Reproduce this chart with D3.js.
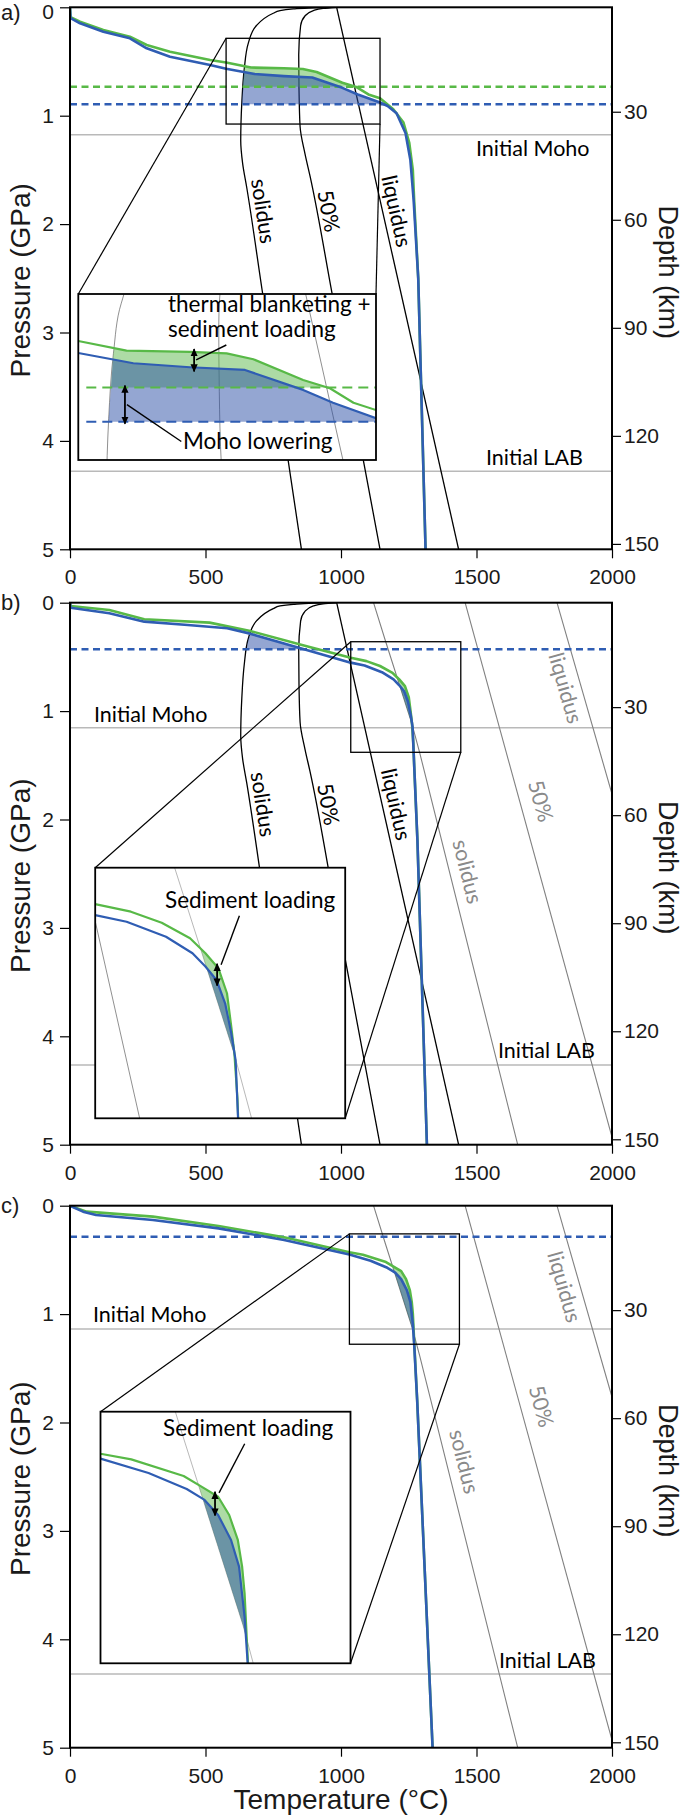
<!DOCTYPE html>
<html><head><meta charset="utf-8">
<script src="https://cdn.jsdelivr.net/npm/d3@7"></script>
<style>body{margin:0;background:#fff}svg{display:block}</style>
</head><body>
<svg id="chart" width="685" height="1819"></svg>
<script>
// ================= DATA =================
const tempTicks = [0, 500, 1000, 1500, 2000];
const pressureTicks = [0, 1, 2, 3, 4, 5];
const depthTicks = [30, 60, 90, 120, 150];
const panelLabels = ["a)", "b)", "c)"];

// crustal melting curves (black)  [T (°C), P (GPa)]
const crustSolidus = [[985,0],[900,0.004],[824,0.015],[775,0.03],[750,0.055],[689,0.165],[658,0.33],[643,0.57],[634,0.88],[630,1.23],[637,1.44],[652,1.66],[709,2.61],[805,4.18],[854,5]];
const crust50 = [[984,0],[934,0.01],[898,0.03],[867,0.08],[851,0.17],[844,0.44],[845,0.75],[849,1.1],[867,1.35],[886,1.56],[967,2.64],[1144,5]];
const crustLiquidus = [[984,0],[1434,5]];
// mantle melting curves (grey)
const mantleSolidus = [[1120,0],[1165,0.36],[1262,1.12],[1290,1.38],[1652,5]];
const mantle50 = [[1458,0],[2000,4.93]];
const mantleLiquidus = [[1797,0],[2000,1.765]];

// geotherms per panel (green = with sediment, blue = reference)
const geoGreenA = [[0,0],[2,0.09],[37,0.133],[123,0.209],[221,0.271],[283,0.348],[369,0.41],[517,0.486],[576,0.51],[668,0.556],[789,0.562],[859,0.569],[910,0.597],[1005,0.696],[1056,0.735],[1101,0.804],[1144,0.839],[1193,0.94],[1230,1.06],[1252,1.25],[1265,1.5],[1270,1.78],[1285,2.5],[1312,5]];
const geoBlueA = [[0,0],[2,0.10],[37,0.148],[123,0.225],[221,0.286],[283,0.378],[369,0.456],[517,0.532],[576,0.567],[681,0.616],[789,0.635],[894,0.648],[1005,0.743],[1062,0.804],[1144,0.878],[1172,0.91],[1205,0.978],[1238,1.16],[1256,1.41],[1268,1.78],[1285,2.5],[1312,5]];
const geoGreenB = [[0,0],[2,0.03],[145,0.067],[274,0.153],[515,0.184],[661,0.258],[870,0.4],[1036,0.508],[1094,0.539],[1144,0.584],[1190,0.647],[1215,0.708],[1236,0.769],[1250,0.871],[1257,1.007],[1262,1.115],[1267,1.3],[1270,1.5],[1282,2.19],[1317,5]];
const geoBlueB = [[0,0],[2,0.046],[145,0.098],[274,0.175],[435,0.206],[580,0.236],[661,0.283],[838,0.412],[1036,0.553],[1087,0.58],[1151,0.641],[1194,0.708],[1215,0.762],[1233,0.817],[1247,0.912],[1257,1.034],[1264,1.143],[1268,1.38],[1282,2.19],[1317,5]];
const geoGreenC = [[0,0],[61,0.055],[306,0.101],[548,0.187],[790,0.292],[1031,0.43],[1081,0.453],[1166,0.52],[1197,0.566],[1222,0.604],[1240,0.678],[1254,0.779],[1261,0.887],[1265,0.995],[1268,1.15],[1271,1.3],[1281,1.79],[1338,5]];
const geoBlueC = [[0,0],[48,0.055],[96,0.086],[306,0.132],[548,0.209],[790,0.316],[1031,0.45],[1109,0.508],[1171,0.573],[1200,0.617],[1222,0.678],[1243,0.779],[1256,0.887],[1265,1.09],[1270,1.278],[1281,1.79],[1338,5]];
const geoGreen = [geoGreenA, geoGreenB, geoGreenC];
const geoBlue = [geoBlueA, geoBlueB, geoBlueC];

// Moho / LAB pressures (GPa)
const newMohoGreen = [0.732, null, null];
const newMohoBlue = [0.895, 0.43, 0.286];
const initialMoho = [1.175, 1.153, 1.137];
const initialLAB = [4.28, 4.265, 4.32];

// zoomed windows [Tmin, Tmax], [Pmin, Pmax]
const zoomT = [[576,1144],[1036,1442],[1031,1437]];
const zoomP = [[0.286,1.077],[0.36,1.38],[0.26,1.278]];

// annotation arrows: temperature (°C) at which they sit
const sedArrowT = [797, 1234, 1217];
const mohoArrowT = [665, null, null];

const showCrust = [true, true, false];
const showMantle = [false, true, true];

// ================= LAYOUT =================
const L = 70, S = 542;
const tops = [7.3, 602.7, 1205.7];
const insetBox = [{x:78.3,y:294,w:297.7,h:166},{x:95.2,y:867.7,w:250,h:250.6},{x:100.5,y:1411.7,w:250,h:251.6}];
const FONT_AX = "'Liberation Sans', Arial, Helvetica, sans-serif";
const FONT_LB = "Lato, 'Open Sans', sans-serif";
const BLUE = "#2f5db3", GREEN = "#58b947", GREY = "#808080";
const BLUEFILL = "#2a4ea6", GREENFILL = "#5cb84c";
const fmt = d3.format("d");

const svg = d3.select("#chart");
const defs = svg.append("defs");
defs.append("marker").attr("id","ah").attr("viewBox","0 0 10 10").attr("refX",9).attr("refY",5)
  .attr("markerWidth",8).attr("markerHeight",8).attr("markerUnits","userSpaceOnUse")
  .attr("orient","auto-start-reverse")
  .append("path").attr("d","M0,0.5L10,5L0,9.5Z").attr("fill","#000");

function tAtP(c, P) {
  if (P <= c[0][1]) return c[0][0];
  for (let i = 1; i < c.length; i++) {
    const [t0,p0] = c[i-1], [t1,p1] = c[i];
    if (P <= p1) return p1 === p0 ? t1 : t0 + (P-p0)/(p1-p0)*(t1-t0);
  }
  const n = c.length, [t0,p0] = c[n-2], [t1,p1] = c[n-1];
  return t0 + (P-p0)/(p1-p0)*(t1-t0);
}
function pAtT(c, T) {
  for (let i = 1; i < c.length; i++) {
    const [t0,p0] = c[i-1], [t1,p1] = c[i];
    if (T <= t1) return t1 === t0 ? p1 : p0 + (T-t0)/(t1-t0)*(p1-p0);
  }
  return c[c.length-1][1];
}
function fillPts(geo, sol, p0, p1) {
  const n = 400, pts = [];
  for (let k = 0; k <= n; k++) {
    const P = p0 + (p1-p0)*k/n, s = tAtP(sol,P), t = tAtP(geo,P);
    pts.push([P, s, Math.max(s,t)]);
  }
  return pts;
}

function drawContent(g, x, y, i, inset) {
  const line = d3.line().x(d=>x(d[0])).y(d=>y(d[1]));
  const smooth = d3.line().x(d=>x(d[0])).y(d=>y(d[1])).curve(d3.curveMonotoneY);
  const x0 = x.range()[0], x1 = x.range()[1];
  if (!inset) {
    [initialMoho[i], initialLAB[i]].forEach(p => g.append("line")
      .attr("x1",x0).attr("x2",x1).attr("y1",y(p)).attr("y2",y(p))
      .attr("stroke","#b9b9b9").attr("stroke-width",1.5));
  }
  if (showMantle[i]) [mantleSolidus, mantle50, mantleLiquidus].forEach(c =>
    g.append("path").attr("d",line(c)).attr("fill","none").attr("stroke",inset?"#999":GREY).attr("stroke-width",inset?0.7:1.1));
  if (showCrust[i]) [crustSolidus, crust50, crustLiquidus].forEach(c =>
    g.append("path").attr("d",smooth(c)).attr("fill","none").attr("stroke",inset?"#444":"#000").attr("stroke-width",inset?0.6:1.3));
  // melt fills
  const area = d3.area().y(d=>y(d[0])).x0(d=>x(d[1])).x1(d=>x(d[2]));
  const layers = [[geoGreen[i], GREENFILL, newMohoGreen[i]], [geoBlue[i], BLUEFILL, newMohoBlue[i]]];
  layers.forEach(([geo, col, moho]) => {
    if (showCrust[i] && moho !== null)
      g.append("path").attr("d",area(fillPts(geo,crustSolidus,0,moho))).attr("fill",col).attr("fill-opacity",0.5);
    if (showMantle[i])
      g.append("path").attr("d",area(fillPts(geo,mantleSolidus,newMohoBlue[i],5))).attr("fill",col).attr("fill-opacity",0.5);
  });
  // new Moho dashed lines
  if (!inset || i === 0) {
    [[newMohoGreen[i],GREEN],[newMohoBlue[i],BLUE]].forEach(([p,col]) => {
      if (p === null) return;
      g.append("line").attr("x1",inset?x0+8:x0).attr("x2",x1).attr("y1",y(p)).attr("y2",y(p))
        .attr("stroke",col).attr("stroke-width",inset?2:2.5).attr("stroke-dasharray",inset?"10,6":"7,4.5");
    });
  }
  [[geoGreen[i],GREEN],[geoBlue[i],BLUE]].forEach(([geo,col]) =>
    g.append("path").attr("d",line(geo)).attr("fill","none").attr("stroke",col)
      .attr("stroke-width",inset?2.2:2.6).attr("stroke-linejoin","round"));
}

function curveLabel(g, x, y, c, P, dx, text, color) {
  const T = tAtP(c,P);
  const ax = x(tAtP(c,P-0.3)), ay = y(P-0.3), bx = x(tAtP(c,P+0.3)), by = y(P+0.3);
  const ang = Math.atan2(by-ay, bx-ax)*180/Math.PI;
  g.append("text").attr("transform",`translate(${x(T)+dx},${y(P)}) rotate(${ang})`)
    .attr("text-anchor","middle").attr("dy","0.35em").attr("font-family",FONT_LB)
    .attr("font-size",21.5).attr("fill",color).text(text);
}

const crustLabelP = [1.88, 1.86, null];
const mantleLabelP = [null, [0.787,1.83,2.48], [0.75,1.85,2.36]];
const mohoText = [[476, 21.3],[94,-6],[93,-7]];
const labText = [[486,-6.7],[498,-6.7],[499,-6]];

tops.forEach((top, i) => {
  const x = d3.scaleLinear().domain([0,2000]).range([L, L+S]);
  const y = d3.scaleLinear().domain([0,5]).range([top, top+S]);
  const yd = d3.scaleLinear().domain([1.0,151.5]).range([top, top+S]);

  defs.append("clipPath").attr("id","clip"+i).append("rect").attr("x",L).attr("y",top).attr("width",S).attr("height",S);
  const g = svg.append("g").attr("clip-path",`url(#clip${i})`);
  drawContent(g, x, y, i, false);

  // curve labels
  if (showCrust[i]) {
    const P = crustLabelP[i];
    curveLabel(g,x,y,crustSolidus,P,13,"solidus","#000");
    curveLabel(g,x,y,crust50,P,12,"50%","#000");
    curveLabel(g,x,y,crustLiquidus,P,14,"liquidus","#000");
  }
  if (showMantle[i]) {
    const ps = mantleLabelP[i];
    curveLabel(g,x,y,mantleLiquidus,ps[0],-16,"liquidus","#8a8a8a");
    curveLabel(g,x,y,mantle50,ps[1],21,"50%","#8a8a8a");
    curveLabel(g,x,y,mantleSolidus,ps[2],18,"solidus","#8a8a8a");
  }
  g.append("text").attr("x",mohoText[i][0]).attr("y",y(initialMoho[i])+mohoText[i][1])
    .attr("font-family",FONT_LB).attr("font-size",21.5).text("Initial Moho");
  g.append("text").attr("x",labText[i][0]).attr("y",y(initialLAB[i])+labText[i][1])
    .attr("font-family",FONT_LB).attr("font-size",21.5).text("Initial LAB");

  // zoom rectangle and connectors
  const zx0 = x(zoomT[i][0]), zx1 = x(zoomT[i][1]), zy0 = y(zoomP[i][0]), zy1 = y(zoomP[i][1]);
  const b = insetBox[i];
  svg.append("rect").attr("x",zx0).attr("y",zy0).attr("width",zx1-zx0).attr("height",zy1-zy0)
    .attr("fill","none").attr("stroke","#000").attr("stroke-width",1.3);
  const conn = i === 0 ? [[zx0,zy0,b.x,b.y],[zx1,zy1,b.x+b.w,b.y]] : [[zx0,zy0,b.x,b.y],[zx1,zy1,b.x+b.w,b.y+b.h]];
  conn.forEach(c => svg.append("line").attr("x1",c[0]).attr("y1",c[1]).attr("x2",c[2]).attr("y2",c[3])
    .attr("stroke","#000").attr("stroke-width",1.2));

  // inset
  const xi = d3.scaleLinear().domain(zoomT[i]).range([b.x, b.x+b.w]);
  const yi = d3.scaleLinear().domain(zoomP[i]).range([b.y, b.y+b.h]);
  svg.append("rect").attr("x",b.x).attr("y",b.y).attr("width",b.w).attr("height",b.h).attr("fill","#fff");
  defs.append("clipPath").attr("id","iclip"+i).append("rect").attr("x",b.x).attr("y",b.y).attr("width",b.w).attr("height",b.h);
  const gi = svg.append("g").attr("clip-path",`url(#iclip${i})`);
  drawContent(gi, xi, yi, i, true);
  const ga = svg.append("g");
  // sediment arrow
  const sT = sedArrowT[i];
  const sx = xi(sT), syA = yi(pAtT(geoGreen[i],sT)), syB = yi(pAtT(geoBlue[i],sT));
  ga.append("line").attr("x1",sx).attr("x2",sx).attr("y1",syA-3).attr("y2",syB+4)
    .attr("stroke","#000").attr("stroke-width",1.8).attr("marker-start","url(#ah)").attr("marker-end","url(#ah)");
  const IFS = 22.5;
  if (i === 0) {
    ga.append("text").attr("x",b.x+89.7).attr("y",b.y+18).attr("font-family",FONT_LB).attr("font-size",IFS).text("thermal blanketing +");
    ga.append("text").attr("x",b.x+89.7).attr("y",b.y+43).attr("font-family",FONT_LB).attr("font-size",IFS).text("sediment loading");
    ga.append("line").attr("x1",sx+2).attr("y1",(syA+syB)/2).attr("x2",b.x+148).attr("y2",b.y+51).attr("stroke","#000").attr("stroke-width",1.4);
    const mT = mohoArrowT[i], mx = xi(mT), my0 = yi(newMohoGreen[i]), my1 = yi(newMohoBlue[i]);
    ga.append("line").attr("x1",mx).attr("x2",mx).attr("y1",my0-2).attr("y2",my1+2)
      .attr("stroke","#000").attr("stroke-width",1.8).attr("marker-start","url(#ah)").attr("marker-end","url(#ah)");
    ga.append("line").attr("x1",mx+2).attr("y1",(my0+my1)/2).attr("x2",b.x+103).attr("y2",b.y+147.5).attr("stroke","#000").attr("stroke-width",1.4);
    ga.append("text").attr("x",b.x+104.7).attr("y",b.y+155).attr("font-family",FONT_LB).attr("font-size",IFS).text("Moho lowering");
  } else {
    const tx = i === 1 ? 69.8 : 62.5, ty = i === 1 ? 40 : 24;
    ga.append("text").attr("x",b.x+tx).attr("y",b.y+ty).attr("font-family",FONT_LB).attr("font-size",IFS).text("Sediment loading");
    ga.append("line").attr("x1",sx+4).attr("y1",syA-2).attr("x2",b.x+144.2).attr("y2",b.y+ty+8).attr("stroke","#000").attr("stroke-width",1.4);
  }
  svg.append("rect").attr("x",b.x).attr("y",b.y).attr("width",b.w).attr("height",b.h)
    .attr("fill","none").attr("stroke","#000").attr("stroke-width",1.8);

  // frame and axes
  svg.append("rect").attr("x",L).attr("y",top).attr("width",S).attr("height",S)
    .attr("fill","none").attr("stroke","#000").attr("stroke-width",2);
  const styleAxis = (ga) => {
    ga.select(".domain").remove();
    ga.selectAll("line").attr("stroke","#000").attr("stroke-width",1.2);
    ga.selectAll("text").attr("font-family",FONT_AX).attr("font-size",21).attr("fill","#1a1a1a");
  };
  const gx = svg.append("g").attr("transform",`translate(0,${top+S})`)
    .call(d3.axisBottom(x).tickValues(tempTicks).tickFormat(fmt).tickSize(9).tickPadding(11).tickSizeOuter(0));
  styleAxis(gx);
  const gy = svg.append("g").attr("transform",`translate(${L},0)`)
    .call(d3.axisLeft(y).tickValues(pressureTicks).tickFormat(fmt).tickSize(10).tickPadding(6).tickSizeOuter(0));
  styleAxis(gy);
  if (i === 0) gy.selectAll("text").filter(d => d === 0).attr("y", 4.5);
  const gr = svg.append("g").attr("transform",`translate(${L+S},0)`)
    .call(d3.axisRight(yd).tickValues(depthTicks).tickFormat(fmt).tickSize(9).tickPadding(3).tickSizeOuter(0));
  styleAxis(gr);

  svg.append("text").attr("x",1).attr("y",Math.max(top,12)+7.5).attr("font-family",FONT_AX)
    .attr("font-size",22).attr("fill","#1a1a1a").text(panelLabels[i]);
  const cy = top + S/2;
  svg.append("text").attr("transform",`translate(30,${cy+2}) rotate(-90)`).attr("text-anchor","middle")
    .attr("font-family",FONT_AX).attr("font-size",28).attr("fill","#1a1a1a").text("Pressure (GPa)");
  svg.append("text").attr("transform",`translate(659,${cy-6}) rotate(90)`).attr("text-anchor","middle")
    .attr("font-family",FONT_AX).attr("font-size",27).attr("fill","#1a1a1a").text("Depth (km)");
});
svg.append("text").attr("x",L+S/2).attr("y",1809).attr("text-anchor","middle")
  .attr("font-family",FONT_AX).attr("font-size",28).attr("fill","#1a1a1a").text("Temperature (°C)");
</script>
</body></html>
